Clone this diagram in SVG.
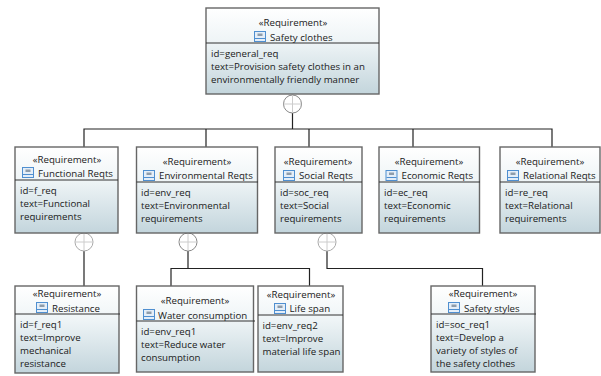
<svg xmlns="http://www.w3.org/2000/svg" width="601" height="376" viewBox="0 0 601 376">
<style>
text{font-family:"Open Sans","Noto Sans","DejaVu Sans",sans-serif;font-size:9.7px;fill:#1a1a1a}
.c{text-anchor:middle}
.b{fill:url(#g);stroke:#666;stroke-width:1.4}
.s{stroke:#333;stroke-width:1;fill:none}
.w{fill:none;stroke:#222;stroke-width:1.2}
.o{fill:#fff;stroke:#aaa;stroke-width:1}
.d{fill:#fff;stroke:#888;stroke-width:1}
.p{stroke:#ccc;stroke-width:1}
.i{fill:#e4eef8;stroke:#4f8fd0;stroke-width:1}
</style>
<defs>
<linearGradient id="g" x1="0" y1="0" x2="0" y2="1">
<stop offset="0" stop-color="#fff"/><stop offset="0.4" stop-color="#eef4f6"/><stop offset="1" stop-color="#c3d5dc"/>
</linearGradient>
<g id="ic"><rect class="i" x="0.500" y="0.500" width="11" height="10"/><path d="M1 7.500H11" stroke="#4f8fd0" fill="none"/><path d="M3.500 2.500H8.500V5H3.500Z" fill="#567" opacity="0.6"/></g>
<g id="cc"><circle class="o" r="9"/><path class="p" d="M-9 0H9M0 -9V9"/></g>
<g id="cd"><circle class="d" r="9"/><path class="p" d="M-9 0H9M0 -9V9"/></g>
</defs>
<g id="connectors">
<path class="w" d="M292.500 113V129M84 147V129H552V147M206 129V147M309 129V147M413 129V147"/>
<path class="w" d="M84 251V286M188 251V268.500M171 286V268.500H309.500V286M327 251V268.500H482.500V286"/>
<use href="#cd" x="292.500" y="104"/><use href="#cc" x="84" y="242"/><use href="#cd" x="188" y="242"/><use href="#cc" x="327" y="242"/>
</g>
<g id="general_req"><rect class="b" x="206" y="8" width="173" height="86"/><path class="s" d="M206 43H379"/>
<text class="c" x="293" y="26">«Requirement»</text><use href="#ic" x="254" y="31"/><text x="270" y="41">Safety clothes</text>
<text x="211" y="57">id=general_req</text><text x="211" y="70">text=Provision safety clothes in an</text><text x="211" y="83">environmentally friendly manner</text></g>
<g id="f_req"><rect class="b" x="15" y="147" width="103" height="86"/><path class="s" d="M15 180H118"/>
<text class="c" x="67" y="163">«Requirement»</text><use href="#ic" x="22" y="167"/><text x="38" y="177">Functional Reqts</text>
<text x="20" y="194">id=f_req</text><text x="20" y="207">text=Functional</text><text x="20" y="220">requirements</text></g>
<g id="env_req"><rect class="b" x="136.500" y="147" width="121" height="86"/><path class="s" d="M136.500 182H258"/>
<text class="c" x="197" y="165">«Requirement»</text><use href="#ic" x="143" y="170"/><text x="159" y="178.500">Environmental Reqts</text>
<text x="141" y="196">id=env_req</text><text x="141" y="209">text=Environmental</text><text x="141" y="222">requirements</text></g>
<g id="soc_req"><rect class="b" x="275" y="147" width="87" height="86"/><path class="s" d="M275 182H362"/>
<text class="c" x="318" y="165">«Requirement»</text><use href="#ic" x="283" y="170"/><text x="299" y="178.500">Social Reqts</text>
<text x="280" y="196">id=soc_req</text><text x="280" y="209">text=Social</text><text x="280" y="222">requirements</text></g>
<g id="ec_req"><rect class="b" x="379" y="147" width="100.500" height="86"/><path class="s" d="M379 182H480"/>
<text class="c" x="429" y="165">«Requirement»</text><use href="#ic" x="385.500" y="170"/><text x="401.500" y="178.500">Economic Reqts</text>
<text x="384" y="196">id=ec_req</text><text x="384" y="209">text=Economic</text><text x="384" y="222">requirements</text></g>
<g id="re_req"><rect class="b" x="500" y="147" width="100" height="86"/><path class="s" d="M500 182H600"/>
<text class="c" x="550" y="165">«Requirement»</text><use href="#ic" x="507" y="170"/><text x="523" y="178.500">Relational Reqts</text>
<text x="505" y="196">id=re_req</text><text x="505" y="209">text=Relational</text><text x="505" y="222">requirements</text></g>
<g id="f_req1"><rect class="b" x="15" y="286" width="104" height="87"/><path class="s" d="M15 314H120"/>
<text class="c" x="67" y="297">«Requirement»</text><use href="#ic" x="36" y="302"/><text x="52" y="311.500">Resistance</text>
<text x="20" y="328">id=f_req1</text><text x="20" y="341">text=Improve</text><text x="20" y="354">mechanical</text><text x="20" y="367">resistance</text></g>
<g id="env_req1"><rect class="b" x="136.500" y="286" width="117" height="86"/><path class="s" d="M136.500 321H255"/>
<text class="c" x="195" y="304">«Requirement»</text><use href="#ic" x="143" y="309"/><text x="158" y="318.500">Water consumption</text>
<text x="141" y="335">id=env_req1</text><text x="141" y="348">text=Reduce water</text><text x="141" y="361">consumption</text></g>
<g id="env_req2"><rect class="b" x="258" y="286" width="85" height="86"/><path class="s" d="M258 315H343"/>
<text class="c" x="301" y="297.500">«Requirement»</text><use href="#ic" x="274" y="303"/><text x="289.500" y="312">Life span</text>
<text x="262.500" y="329">id=env_req2</text><text x="262.500" y="342">text=Improve</text><text x="262.500" y="355" textLength="78" lengthAdjust="spacingAndGlyphs">material life span</text></g>
<g id="soc_req1"><rect class="b" x="431" y="286" width="104" height="86"/><path class="s" d="M431 314H536"/>
<text class="c" x="483" y="297">«Requirement»</text><use href="#ic" x="448" y="302"/><text x="464" y="311.500">Safety styles</text>
<text x="436" y="328">id=soc_req1</text><text x="436" y="341">text=Develop a</text><text x="436" y="354">variety of styles of</text><text x="436" y="367">the safety clothes</text></g>
</svg>
